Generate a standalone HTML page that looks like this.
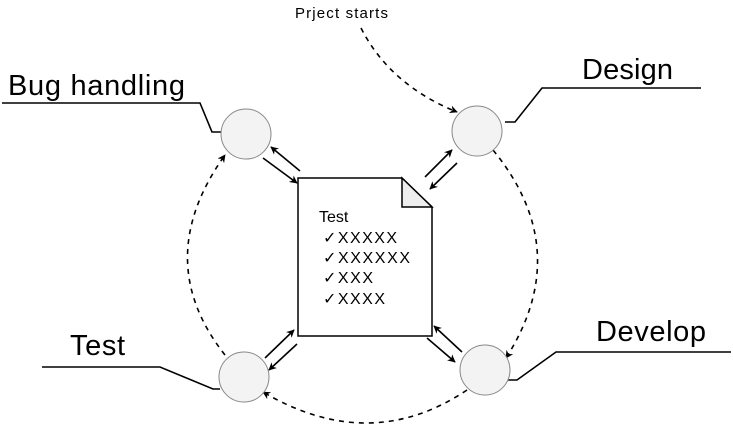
<!DOCTYPE html>
<html><head><style>body{margin:0;background:#fff}svg{display:block}</style></head><body>
<svg width="733" height="428" viewBox="0 0 733 428" xmlns="http://www.w3.org/2000/svg" font-family="Liberation Sans, Arial, sans-serif">
<defs>
<marker id="a" viewBox="0 0 10 10" refX="9" refY="5" markerWidth="8" markerHeight="8" orient="auto" markerUnits="userSpaceOnUse"><path d="M0,0 L10,5 L0,10 L3,5 z" fill="#000"/></marker>
</defs>
<g fill="none" stroke="#000" stroke-width="1.6">
<polyline points="2,103 200,103 212,132 221,132"/>
<polyline points="701,88 542,88 515,122 505,122"/>
<polyline points="42,367 160,367 213,389 220,389"/>
<polyline points="731,352 556,352 517,380 508,380"/>
</g>
<g fill="none" stroke="#000" stroke-width="1.6" stroke-dasharray="5,5">
<path d="M361,28 Q390,85 457,112" marker-end="url(#a)"/>
<path d="M225,355 Q150,260 225,155" marker-end="url(#a)"/>
<path d="M493,150 Q575,250 506,358" marker-end="url(#a)"/>
<path d="M467,390 Q370,455 263,392" marker-end="url(#a)"/>
</g>
<g fill="none" stroke="#000" stroke-width="1.6">
<line x1="263" y1="158" x2="297" y2="183" marker-end="url(#a)"/>
<line x1="300" y1="171" x2="271" y2="147" marker-end="url(#a)"/>
<line x1="425" y1="177" x2="452" y2="150" marker-end="url(#a)"/>
<line x1="457" y1="163" x2="430" y2="189" marker-end="url(#a)"/>
<line x1="265" y1="358" x2="294" y2="330" marker-end="url(#a)"/>
<line x1="297" y1="344" x2="269" y2="370" marker-end="url(#a)"/>
<line x1="427" y1="338" x2="455" y2="362" marker-end="url(#a)"/>
<line x1="462" y1="352" x2="434" y2="326" marker-end="url(#a)"/>
</g>
<g fill="#f3f3f3" stroke="#888" stroke-width="1">
<circle cx="246" cy="134" r="25"/>
<circle cx="477" cy="131" r="25"/>
<circle cx="244" cy="377" r="25"/>
<circle cx="485" cy="370" r="25"/>
</g>
<path d="M298,178 L402,178 L432,207 L432,336 L298,336 Z" fill="#fff" stroke="#000" stroke-width="1.5"/>
<path d="M402,178 L402,207 L432,207 Z" fill="#eee" stroke="#000" stroke-width="1.5"/>
<g font-size="16" fill="#000">
<text x="319" y="222">Test</text>
<text x="323" y="243" textLength="74">✓XXXXX</text>
<text x="323" y="263" textLength="87">✓XXXXXX</text>
<text x="323" y="283" textLength="50">✓XXX</text>
<text x="323" y="304" textLength="62">✓XXXX</text>
</g>
<g font-size="29" fill="#000">
<text x="8" y="95" textLength="177">Bug handling</text>
<text x="582" y="79" textLength="91">Design</text>
<text x="70" y="355" textLength="55">Test</text>
<text x="596" y="341" textLength="110">Develop</text>
</g>
<text x="295" y="18" font-size="15" textLength="93">Prject starts</text>
</svg>
</body></html>
